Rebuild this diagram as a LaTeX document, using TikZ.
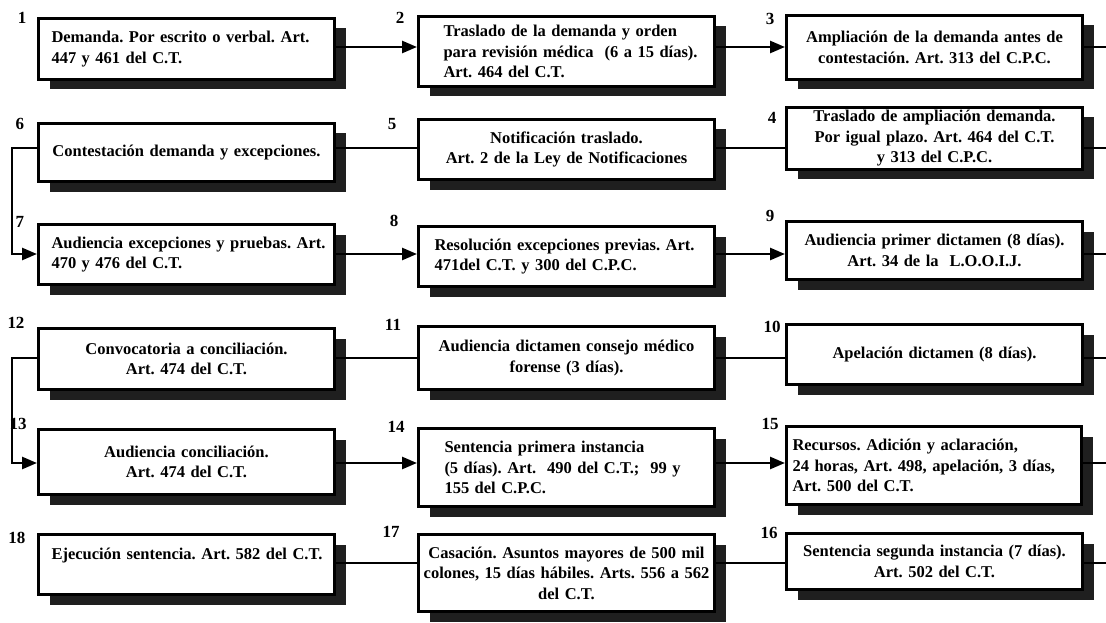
\documentclass[tikz,border=0pt]{standalone}
\usepackage{fontspec}
\setmainfont{Liberation Serif}
\usetikzlibrary{arrows.meta,shadows}
\frenchspacing
\tikzset{
  box/.style={draw=black, line width=3pt, fill=white, anchor=north west,
    minimum width=296pt, inner ysep=1pt,
    font=\fontsize{16.5}{20.5}\selectfont\bfseries,
    execute at begin node=\frenchspacing,
    general shadow={fill=black!88, shadow xshift=11pt, shadow yshift=-10pt}},
  cbox/.style={box, align=center, inner xsep=8pt, text width=280pt},
  num/.style={font=\fontsize{17}{20}\selectfont\bfseries, inner sep=0pt},
  conn/.style={line width=2.6pt, line join=miter},
  arr/.style={conn, -{Triangle[length=15pt,width=12pt]}},
}
\begin{document}
\begin{tikzpicture}[x=1pt,y=-1pt]
\useasboundingbox[fill=white] (0,0) rectangle (1106,623);

% row 1
\node[box, align=left, inner xsep=13pt, text width=270pt, minimum height=61pt] (b1) at (37,17)
  {\mbox{Demanda. Por escrito o verbal. Art.}\\447 y 461 del C.T.};
\node[box, align=left, inner xsep=25pt, text width=246pt, minimum height=70pt] (b2) at (417,15)
  {\mbox{Traslado de la demanda y orden}\\\mbox{para revisión médica\ \ (6 a 15 días).}\\Art. 464 del C.T.};
\node[cbox, minimum width=295pt, minimum height=64pt] (b3) at (785,14)
  {\mbox{Ampliación de la demanda antes de}\\\mbox{contestación. Art. 313 del C.P.C.}};
% row 2
\node[cbox, minimum height=58pt] (b6) at (37,122) {\mbox{Contestación demanda y excepciones.}};
\node[cbox, minimum height=60pt] (b5) at (417,118) {Notificación traslado.\\\mbox{Art. 2 de la Ley de Notificaciones}};
\node[cbox, minimum width=295pt, minimum height=62pt] (b4) at (785,106)
  {\mbox{Traslado de ampliación demanda.}\\\mbox{Por igual plazo. Art. 464 del C.T.}\\y 313 del C.P.C.};
% row 3
\node[box, align=left, inner xsep=13pt, text width=270pt, minimum height=60pt] (b7) at (37,223)
  {\mbox{Audiencia excepciones y pruebas. Art.}\\470 y 476 del C.T.};
\node[box, align=left, inner xsep=16pt, text width=264pt, minimum height=60pt] (b8) at (417,225)
  {\mbox{Resolución excepciones previas. Art.}\\\mbox{471del C.T. y 300 del C.P.C.}};
\node[cbox, minimum width=295pt, minimum height=58pt] (b9) at (785,220)
  {\mbox{Audiencia primer dictamen (8 días).}\\Art. 34 de la\ \ L.O.O.I.J.};
% row 4
\node[cbox, minimum height=61pt] (b12) at (37,327) {Convocatoria a conciliación.\\Art. 474 del C.T.};
\node[cbox, minimum height=63pt] (b11) at (417,325) {\mbox{Audiencia dictamen consejo médico}\\forense (3 días).};
\node[cbox, minimum width=295pt, minimum height=60pt] (b10) at (785,323) {Apelación dictamen (8 días).};
% row 5
\node[cbox, minimum height=65pt] (b13) at (37,428) {Audiencia conciliación.\\Art. 474 del C.T.};
\node[box, align=left, inner xsep=26pt, text width=244pt, minimum height=78pt] (b14) at (417,427)
  {\mbox{Sentencia primera instancia}\\\mbox{(5 días). Art.\ \ 490 del C.T.;\ \ 99 y}\\155 del C.P.C.};
\node[box, align=left, inner xsep=6pt, text width=283pt, minimum width=295pt, minimum height=78pt] (b15) at (785,425)
  {\mbox{Recursos. Adición y aclaración,}\\\mbox{24 horas, Art. 498, apelación, 3 días,}\\Art. 500 del C.T.};
% row 6
\node[box, align=left, inner xsep=13pt, text width=270pt, minimum height=60pt] (b18) at (37,533)
  {\mbox{Ejecución sentencia. Art. 582 del C.T.}\\\mbox{}};
\node[cbox, minimum height=77pt] (b17) at (417,533)
  {\mbox{Casación. Asuntos mayores de 500 mil}\\\makebox[0pt]{colones, 15 días hábiles. Arts. 556 a 562}\\del C.T.};
\node[cbox, minimum width=295pt, minimum height=56pt] (b16) at (785,532)
  {\mbox{Sentencia segunda instancia (7 días).}\\Art. 502 del C.T.};

% step numbers
\node[num] (n1) at (22,18) {1};
\node[num] (n2) at (400,18) {2};
\node[num] (n3) at (770,19) {3};
\node[num] (n6) at (20,124) {6};
\node[num] (n5) at (392,124) {5};
\node[num] (n4) at (772,118) {4};
\node[num] (n7) at (20,222) {7};
\node[num] (n8) at (394,221) {8};
\node[num] (n9) at (770,216) {9};
\node[num] (n12) at (16,323) {12};
\node[num] (n11) at (393,325) {11};
\node[num] (n10) at (772,327) {10};
\node[num] (n13) at (18,424) {13};
\node[num] (n14) at (396,427) {14};
\node[num] (n15) at (770,424) {15};
\node[num] (n18) at (17,538) {18};
\node[num] (n17) at (391,532) {17};
\node[num] (n16) at (769,533) {16};

% helper coordinates
\coordinate (L) at (12,0);
\coordinate (R) at (1106,0);
\coordinate (y1) at (0,47);
\coordinate (y2) at (0,148);
\coordinate (y3) at (0,254);
\coordinate (y4) at (0,358);
\coordinate (y5) at (0,463);
\coordinate (y6) at (0,563);

% connectors
\draw[arr] (b1.east |- y1) -- (b2.west |- y1);
\draw[arr] (b2.east |- y1) -- (b3.west |- y1);
\draw[conn] (b3.east |- y1) -- (R |- y1);
\draw[conn] (R |- y2) -- (b4.east |- y2);
\draw[conn] (b4.west |- y2) -- (b5.east |- y2);
\draw[conn] (b5.west |- y2) -- (b6.east |- y2);
\draw[arr] (b6.west |- y2) -- (L |- y2) -- (L |- y3) -- (b7.west |- y3);
\draw[arr] (b7.east |- y3) -- (b8.west |- y3);
\draw[arr] (b8.east |- y3) -- (b9.west |- y3);
\draw[conn] (b9.east |- y3) -- (R |- y3);
\draw[conn] (R |- y4) -- (b10.east |- y4);
\draw[conn] (b10.west |- y4) -- (b11.east |- y4);
\draw[conn] (b11.west |- y4) -- (b12.east |- y4);
\draw[arr] (b12.west |- y4) -- (L |- y4) -- (L |- y5) -- (b13.west |- y5);
\draw[arr] (b13.east |- y5) -- (b14.west |- y5);
\draw[arr] (b14.east |- y5) -- (b15.west |- y5);
\draw[conn] (b15.east |- y5) -- (R |- y5);
\draw[conn] (R |- y6) -- (b16.east |- y6);
\draw[conn] (b16.west |- y6) -- (b17.east |- y6);
\draw[conn] (b17.west |- y6) -- (b18.east |- y6);
\end{tikzpicture}
\end{document}
